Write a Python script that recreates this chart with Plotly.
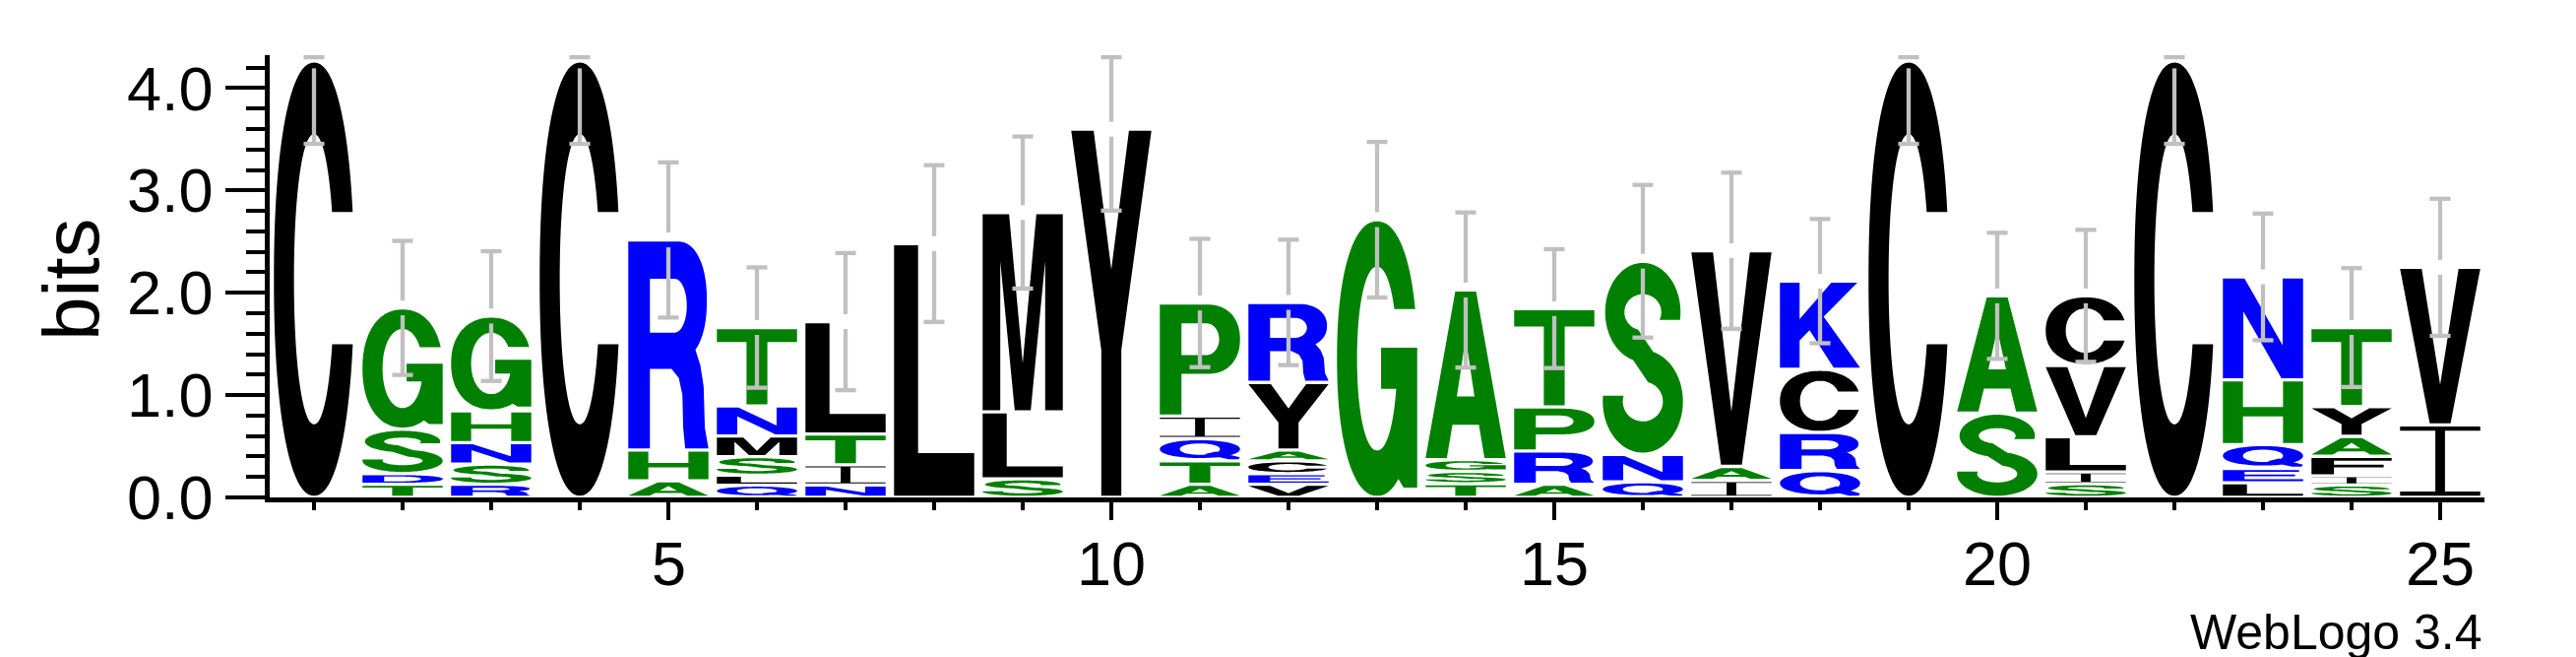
import numpy as np
import plotly.graph_objects as go

positions = list(range(1, 26))

# letters of each stack, from the bottom of the stack to the top
stack_letters = [
    "C", "TDSG", "RSNHG", "C", "AHR", "QLSMNT", "NITL", "L", "SLM", "Y",
    "ATQIP", "VECAYR", "G", "TSGA", "ARPT", "QNS", "IAV", "QRCK", "C", "SA",
    "SILVC", "C", "LEQHN", "SIFAYT", "IV",
]
# information (bits) carried by each letter, same order as above
stack_heights = [
    [4.265],
    [0.128, 0.105, 0.434, 1.185],
    [0.128, 0.198, 0.210, 0.310, 0.926],
    [4.265],
    [0.163, 0.300, 2.053],
    [0.121, 0.096, 0.182, 0.201, 0.294, 0.766],
    [0.121, 0.198, 0.300, 1.099],
    [2.481],
    [0.182, 0.655, 1.947],
    [3.598],
    [0.128, 0.230, 0.217, 0.220, 1.105],
    [0.128, 0.105, 0.125, 0.105, 0.661, 0.782],
    [2.714],
    [0.134, 0.121, 0.115, 1.657],
    [0.128, 0.325, 0.431, 0.961],
    [0.153, 0.268, 1.887],
    [0.166, 0.137, 2.108],
    [0.262, 0.373, 0.617, 0.862],
    [4.265],
    [0.824, 1.146],
    [0.134, 0.115, 0.345, 0.696, 0.680],
    [4.265],
    [0.144, 0.140, 0.233, 0.632, 1.006],
    [0.123, 0.088, 0.191, 0.195, 0.291, 0.772],
    [0.709, 1.540],
]
# error bar half-length (bits) of each stack
error_bits = [0.81, 0.655, 0.634, 0.81, 0.758, 0.588, 0.670, 0.766, 0.743, 0.795,
              0.627, 0.613, 0.760, 0.758, 0.581, 0.746, 0.763, 0.607, 0.81, 0.616,
              0.645, 0.81, 0.619, 0.581, 0.670]

y_tick_vals = [0, 1, 2, 3, 4]
y_tick_text = ["0.0", "1.0", "2.0", "3.0", "4.0"]
x_tick_vals = [5, 10, 15, 20, 25]
x_tick_text = ["5", "10", "15", "20", "25"]
y_max = float(np.log2(20))

# ---------------- style ----------------
FONT = "Liberation Sans, Arial, Helvetica, sans-serif"
BLUE, GREEN, BLACK = "#0000FF", "#008000", "#000000"
COLOR = {}
for a in "RKDENQ":
    COLOR[a] = BLUE
for a in "SGHTAP":
    COLOR[a] = GREEN
for a in "YVMCLFIW":
    COLOR[a] = BLACK
LETTER_W = 0.905
PAD = 0.016
ERR_COLOR = "#C0C0C0"
ERR_GAP = 0.072
CAP_HALF = 0.117


# ---------------- glyph outlines in a unit box ----------------
def arc(cx, cy, rx, ry, a0, a1, p=2.0, n=40):
    t = np.radians(np.linspace(a0, a1, n))
    e = 2.0 / p
    out = []
    for ci, si in zip(np.cos(t), np.sin(t)):
        out.append((cx + rx * np.sign(ci) * abs(ci) ** e,
                    cy + ry * np.sign(si) * abs(si) ** e))
    return out


def angle_at(cy, ry, y, p=2.0):
    s = (y - cy) / ry
    v = np.sign(s) * abs(s) ** (p / 2.0)
    return float(np.degrees(np.arcsin(np.clip(v, -1, 1))))


def g_C():
    po, pi = 2.2, 2.1
    yu, yl = 0.655, 0.35
    ou, ol = angle_at(0.5, 0.5, yu, po), angle_at(0.5, 0.5, yl, po)
    iu, il = angle_at(0.5, 0.335, yu, pi), angle_at(0.5, 0.335, yl, pi)
    outer = arc(0.5, 0.5, 0.5, 0.5, ou, 360 + ol, po, 90)
    inner = arc(0.5, 0.5, 0.25, 0.335, 360 + il, iu, pi, 90)
    return [(outer + inner, False)]


def g_G():
    po, pi = 2.2, 2.1
    yu, blo, bhi = 0.68, 0.39, 0.54
    ou = angle_at(0.5, 0.5, yu, po)
    iu = angle_at(0.5, 0.335, yu, pi)
    il = angle_at(0.5, 0.335, blo, pi)
    pts = arc(0.5, 0.5, 0.5, 0.5, ou, 300, po, 90)
    pts += [(0.83, 0.03), (1.0, 0.03), (1.0, bhi), (0.55, bhi), (0.55, blo)]
    pts += arc(0.5, 0.5, 0.25, 0.335, il, iu - 360, pi, 90)
    return [(pts, False)]


def g_S():
    ucx, ucy, urx, ury, uirx, uiry = 0.5, 0.74, 0.47, 0.26, 0.23, 0.095
    lcx, lcy, lrx, lry, lirx, liry = 0.5, 0.27, 0.5, 0.27, 0.25, 0.105
    a_uo = angle_at(ucy, ury, 0.70)
    a_ui = angle_at(ucy, uiry, 0.70)
    a_lo = 180 - angle_at(lcy, lry, 0.30) - 360
    a_li = 180 - angle_at(lcy, liry, 0.30) - 360
    pts = arc(ucx, ucy, urx, ury, a_uo, 255, 2.0, 70)
    pts += arc(lcx, lcy, lirx, liry, 75, a_li, 2.0, 70)
    pts += arc(lcx, lcy, lrx, lry, a_lo, 75, 2.0, 70)
    pts += arc(ucx, ucy, uirx, uiry, 255, a_ui, 2.0, 70)
    return [(pts, False)]


def g_Q():
    outer = arc(0.5, 0.53, 0.5, 0.47, 0, 360, 2.1, 100)
    inner = arc(0.5, 0.53, 0.25, 0.30, 0, 360, 2.1, 100)
    tail = [(0.56, 0.27), (0.70, 0.40), (1.0, 0.10), (0.98, 0.0), (0.86, 0.0)]
    return [(outer, False), (inner, True), (tail, False)]


def g_D():
    outer = [(0, 0), (0, 1)] + arc(0.45, 0.5, 0.55, 0.5, 90, -90, 2.3, 60)
    hole = [(0.27, 0.83)] + arc(0.42, 0.5, 0.31, 0.33, 90, -90, 2.2, 60) + [(0.27, 0.17)]
    return [(outer, False), (hole, True)]


def g_P():
    outer = [(0, 0), (0, 1)] + arc(0.6, 0.685, 0.4, 0.315, 90, -90, 2.2, 60) + [(0.27, 0.37), (0.27, 0)]
    hole = [(0.27, 0.83)] + arc(0.58, 0.685, 0.16, 0.145, 90, -90, 2.0, 40) + [(0.27, 0.54)]
    return [(outer, False), (hole, True)]


def g_R():
    outer = [(0, 0), (0, 1)] + arc(0.62, 0.715, 0.36, 0.285, 90, -55, 2.2, 60)
    outer += [(0.90, 0.40), (0.94, 0.30), (0.955, 0.10), (1.0, 0.0), (0.71, 0.0),
              (0.685, 0.10), (0.675, 0.26), (0.63, 0.34), (0.54, 0.385), (0.27, 0.385), (0.27, 0)]
    hole = [(0.27, 0.82)] + arc(0.58, 0.69, 0.15, 0.13, 90, -90, 2.0, 40) + [(0.27, 0.56)]
    return [(outer, False), (hole, True)]


def poly(*pts):
    return [(list(pts), False)]


GLYPH_FUNCS = {
    "C": g_C, "G": g_G, "S": g_S, "Q": g_Q, "D": g_D, "P": g_P, "R": g_R,
    "A": lambda: [([(0, 0), (0.37, 1), (0.63, 1), (1, 0), (0.735, 0), (0.665, 0.2),
                    (0.335, 0.2), (0.265, 0)], False),
                  ([(0.39, 0.37), (0.61, 0.37), (0.5, 0.72)], True)],
    "E": lambda: poly((0, 0), (0, 1), (0.95, 1), (0.95, 0.83), (0.27, 0.83), (0.27, 0.59),
                      (0.9, 0.59), (0.9, 0.43), (0.27, 0.43), (0.27, 0.17), (1, 0.17), (1, 0)),
    "F": lambda: poly((0, 0), (0, 1), (1, 1), (1, 0.83), (0.28, 0.83), (0.28, 0.58),
                      (0.9, 0.58), (0.9, 0.42), (0.28, 0.42), (0.28, 0)),
    "H": lambda: poly((0, 0), (0, 1), (0.25, 1), (0.25, 0.585), (0.75, 0.585), (0.75, 1),
                      (1, 1), (1, 0), (0.75, 0), (0.75, 0.43), (0.25, 0.43), (0.25, 0)),
    "I": lambda: poly((0, 1), (1, 1), (1, 0.94), (0.56, 0.94), (0.56, 0.06), (1, 0.06),
                      (1, 0), (0, 0), (0, 0.06), (0.44, 0.06), (0.44, 0.94), (0, 0.94)),
    "K": lambda: poly((0, 0), (0, 1), (0.245, 1), (0.245, 0.57), (0.64, 1), (0.965, 1),
                      (0.545, 0.6), (1, 0), (0.67, 0), (0.37, 0.44), (0.245, 0.32), (0.245, 0)),
    "L": lambda: poly((0, 0), (0, 1), (0.30, 1), (0.30, 0.17), (1, 0.17), (1, 0)),
    "M": lambda: poly((0, 0), (0, 1), (0.33, 1), (0.5, 0.24), (0.67, 1), (1, 1), (1, 0),
                      (0.78, 0), (0.78, 0.76), (0.6, 0), (0.4, 0), (0.22, 0.76), (0.22, 0)),
    "N": lambda: poly((0, 0), (0, 1), (0.27, 1), (0.745, 0.33), (0.745, 1), (1, 1), (1, 0),
                      (0.73, 0), (0.255, 0.67), (0.255, 0)),
    "T": lambda: poly((0, 1), (1, 1), (1, 0.83), (0.63, 0.83), (0.63, 0), (0.37, 0),
                      (0.37, 0.83), (0, 0.83)),
    "V": lambda: poly((0, 1), (0.27, 1), (0.5, 0.25), (0.73, 1), (1, 1), (0.63, 0), (0.37, 0)),
    "Y": lambda: poly((0.375, 0), (0.375, 0.40), (0, 1), (0.28, 1), (0.5, 0.62), (0.72, 1),
                      (1, 1), (0.625, 0.40), (0.625, 0)),
}


def signed_area(pts):
    a = 0.0
    for (x0, y0), (x1, y1) in zip(pts, pts[1:] + pts[:1]):
        a += x0 * y1 - x1 * y0
    return a / 2.0


GLYPHS = {}
for k, f in GLYPH_FUNCS.items():
    polys = []
    for pts, hole in f():
        pts = list(pts)
        ccw = signed_area(pts) > 0
        if ccw == hole:
            pts = pts[::-1]
        polys.append(pts)
    GLYPHS[k] = polys


def letter_path(letter, xc, y0, y1):
    x_left = xc - LETTER_W / 2.0
    parts = []
    for pts in GLYPHS[letter]:
        seg = []
        for i, (u, v) in enumerate(pts):
            x = x_left + u * LETTER_W
            y = y0 + v * (y1 - y0)
            seg.append(("M" if i == 0 else "L") + f"{x:.4f},{y:.5f}")
        parts.append(" ".join(seg) + " Z")
    return " ".join(parts)


# ---------------- build figure ----------------
shapes = []
stack_tops = []
for pos, letters, heights in zip(positions, stack_letters, stack_heights):
    base = 0.0
    for letter, h in zip(letters, heights):
        pad = min(PAD, h * 0.15)
        shapes.append(dict(
            type="path", xref="x", yref="y", layer="below",
            path=letter_path(letter, pos, base + pad, base + h - pad),
            fillcolor=COLOR[letter], line=dict(width=0), fillrule="nonzero",
        ))
        base += h
    stack_tops.append(base)

stem_x, stem_y, cap_x, cap_y = [], [], [], []
hi_limit = y_max - 0.02
for pos, top, err in zip(positions, stack_tops, error_bits):
    lo = top - err
    hi = min(top + err, hi_limit)
    stem_x += [pos, pos, None]
    stem_y += [lo, top - ERR_GAP, None]
    if hi > top + ERR_GAP:
        stem_x += [pos, pos, None]
        stem_y += [top + ERR_GAP, hi, None]
    cap_x += [pos - CAP_HALF, pos + CAP_HALF, None, pos - CAP_HALF, pos + CAP_HALF, None]
    cap_y += [lo, lo, None, hi, hi, None]

fig = go.Figure()
fig.add_trace(go.Scatter(x=stem_x, y=stem_y, mode="lines", line=dict(color=ERR_COLOR, width=4.3),
                         hoverinfo="skip", name="error"))
fig.add_trace(go.Scatter(x=cap_x, y=cap_y, mode="lines", line=dict(color=ERR_COLOR, width=4.3),
                         hoverinfo="skip", name="error caps"))

L_M, R_M, T_M, B_M = 266, 101, 48, 170
W_P = 2617 - L_M - R_M
H_P = 667 - T_M - B_M


def paper_x(px):
    return (px - L_M) / W_P


def paper_y(py):
    return (667 - B_M - py) / H_P


annotations = [
    dict(text="bits", xref="paper", yref="paper", x=paper_x(64), y=paper_y(276),
         xanchor="center", yanchor="middle", textangle=-90, showarrow=False,
         font=dict(size=80, family=FONT, color="black")),
    dict(text="WebLogo 3.4", xref="paper", yref="paper", x=paper_x(2516), y=paper_y(634),
         xanchor="right", yanchor="middle", showarrow=False,
         font=dict(size=50, family=FONT, color="black")),
]
# x tick labels placed under their ticks
for v, t in zip(x_tick_vals, x_tick_text):
    annotations.append(dict(text=t, xref="x", yref="paper", x=v, y=paper_y(564),
                            xanchor="center", yanchor="middle", showarrow=False,
                            font=dict(size=63, family=FONT, color="black")))

fig.update_layout(
    width=2617, height=667,
    margin=dict(l=L_M, r=R_M, t=T_M, b=B_M, autoexpand=False),
    plot_bgcolor="white", paper_bgcolor="white",
    showlegend=False, hovermode=False,
    font=dict(family=FONT, color="black"),
    shapes=shapes,
    xaxis=dict(
        range=[0.5, 25.5], showline=True, linecolor="black", linewidth=4.6,
        ticks="outside", tickmode="array", tickvals=x_tick_vals, showticklabels=False,
        ticklen=18, tickwidth=4, tickcolor="black",
        showgrid=False, zeroline=False, fixedrange=True,
        minor=dict(tickmode="array", tickvals=positions, ticks="outside", ticklen=8,
                   tickwidth=4, tickcolor="black", showgrid=False),
    ),
    yaxis=dict(
        range=[0, y_max], showline=True, linecolor="black", linewidth=4.6,
        ticks="outside", tickmode="array", tickvals=y_tick_vals, ticktext=y_tick_text,
        ticklen=40, tickwidth=4, tickcolor="black", tickfont=dict(size=63, family=FONT),
        showgrid=False, zeroline=False, fixedrange=True,
        minor=dict(tick0=0, dtick=0.2, ticks="outside", ticklen=19, tickwidth=4,
                   tickcolor="black", showgrid=False),
    ),
    annotations=annotations,
)

fig.write_html("out.html")
